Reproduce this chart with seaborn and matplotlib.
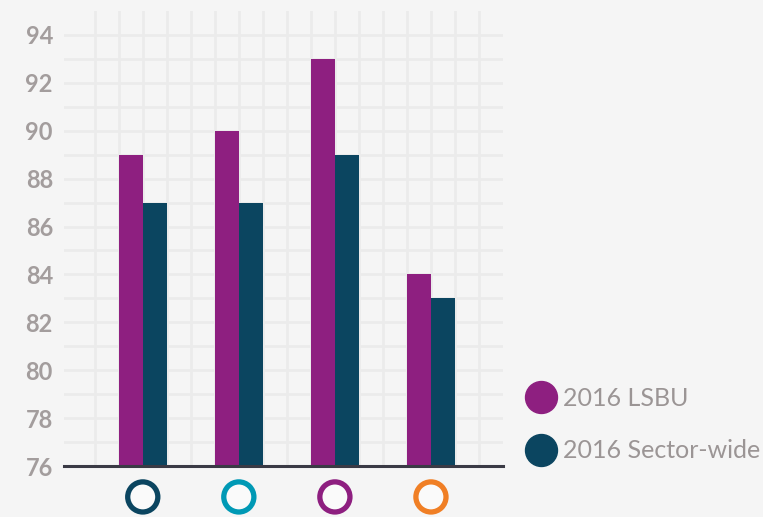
import numpy as np
import pandas as pd
import seaborn as sns
import matplotlib.pyplot as plt
from matplotlib.lines import Line2D
from matplotlib import transforms

# data
groups = ["g1", "g2", "g3", "g4"]
lsbu = [89, 90, 93, 84]
sector = [87, 87, 89, 83]
series_names = ["2016 LSBU", "2016 Sector-wide"]
ring_colours = ["#0b4560", "#0099b5", "#8e1f80", "#f07f25"]
y_ticks = list(range(76, 95, 2))

bg = "#f5f5f5"
purple = "#8e1f80"
navy = "#0b4560"
grey_txt = "#a39d9d"

df = pd.DataFrame({
    "group": groups * 2,
    "series": [series_names[0]] * 4 + [series_names[1]] * 4,
    "value": lsbu + sector,
})

sns.set_theme(style="white")
plt.rcParams["font.family"] = ["Lato", "DejaVu Sans"]

fig = plt.figure(figsize=(7.63, 5.17), dpi=100, facecolor=bg)
ax = fig.add_axes([64 / 763, 51 / 517, (503 - 64) / 763, (506 - 51) / 517])
ax.set_facecolor(bg)

sns.barplot(data=df, x="group", y="value", hue="series",
            palette=[purple, navy], width=0.5, saturation=1,
            linewidth=0, edgecolor="none",
            legend=False, ax=ax, zorder=3)

ax.set_xlim(-0.82, 3.75)
ax.set_ylim(76, 95)

# grid: every unit vertically, every quarter category horizontally
ax.set_yticks(y_ticks)
ax.set_yticks(range(76, 95), minor=True)
ax.set_xticks(np.arange(-0.5, 3.51, 0.25), minor=True)
ax.set_xticks(range(len(groups)))
ax.set_xticklabels([])
ax.grid(True, which="both", color="#ebebeb", linewidth=2, zorder=0)
ax.set_axisbelow(True)
ax.tick_params(axis="both", which="both", length=0)
ax.tick_params(axis="y", pad=8)
for lab in ax.get_yticklabels():
    lab.set_fontsize(17)
    lab.set_fontweight("bold")
    lab.set_color(grey_txt)
ax.set_xlabel("")
ax.set_ylabel("")

for s in ["left", "right", "top"]:
    ax.spines[s].set_visible(False)
ax.spines["bottom"].set_color("#3a3a45")
ax.spines["bottom"].set_linewidth(2.2)
ax.spines["bottom"].set_zorder(4)

# coloured rings under each group
trans = transforms.blended_transform_factory(ax.transData, ax.transAxes)
ax.scatter(range(len(groups)), [-0.068] * 4, s=470, marker="o",
           facecolors="#fafafa", edgecolors=ring_colours, linewidths=3.8,
           transform=trans, clip_on=False, zorder=5)

handles = [Line2D([], [], marker="o", linestyle="", markersize=23,
                  markerfacecolor=c, markeredgecolor=c) for c in [purple, navy]]
leg = fig.legend(handles, series_names, loc="upper left",
                 bbox_to_anchor=(503 / 763, 1 - 364 / 517), frameon=False,
                 handlelength=1.2, handletextpad=0.3, labelspacing=1.2,
                 prop={"size": 18})
for t in leg.get_texts():
    t.set_color("#9b9595")

fig.savefig("out.png", dpi=100, facecolor=bg)
